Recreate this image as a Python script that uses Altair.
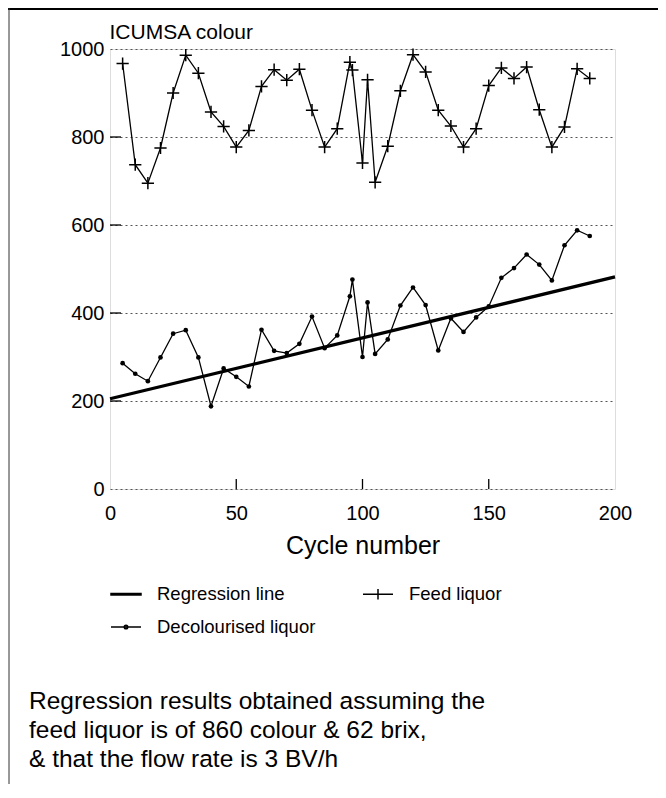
import altair as alt
import pandas as pd

# ---------------- data ----------------
cycles = [5, 10, 15, 20, 25, 30, 35, 40, 45, 50, 55, 60, 65, 70, 75, 80, 85, 90,
          95, 96, 100, 102, 105, 110, 115, 120, 125, 130, 135, 140, 145, 150,
          155, 160, 165, 170, 175, 180, 185, 190]
feed_colour = [967, 737, 695, 775, 900, 986, 945, 857, 824, 777, 815, 915, 953,
               929, 954, 861, 777, 819, 970, 952, 741, 930, 697, 779, 905, 987,
               948, 861, 825, 777, 819, 917, 957, 933, 959, 862, 777, 823, 955, 933]
decol_colour = [286, 262, 245, 299, 353, 361, 299, 188, 274, 255, 233, 362, 314,
                309, 330, 392, 320, 349, 438, 476, 300, 424, 307, 340, 417, 458,
                418, 315, 388, 357, 390, 415, 480, 502, 533, 510, 474, 554, 588, 575]
reg_cycles = [0, 200]
reg_colour = [205, 482]

series_labels = ["Regression line", "Feed liquor", "Decolourised liquor"]
x_ticks = [0, 50, 100, 150, 200]
y_ticks = [0, 200, 400, 600, 800, 1000]
x_inner_ticks = [50, 100, 150]
y_inner_ticks = [200, 400, 600, 800]
note_lines = ["Regression results obtained assuming the",
              "feed liquor is of 860 colour & 62 brix,",
              "& that the flow rate is 3 BV/h"]

rows = []
for c, v in zip(reg_cycles, reg_colour):
    rows.append({"cycle": c, "colour": v, "series": series_labels[0]})
for c, v in zip(cycles, feed_colour):
    rows.append({"cycle": c, "colour": v, "series": series_labels[1]})
for c, v in zip(cycles, decol_colour):
    rows.append({"cycle": c, "colour": v, "series": series_labels[2]})
df = pd.DataFrame(rows)

FONT = "Liberation Sans"
W, H = 505, 440

PLUS = "M-1,0H1M0,-1V1"
SYM_REG = "M-1,-0.05H1V0.05H-1Z"
SYM_FEED = "M-1,0H1M0,-0.35V0.35"
SYM_DEC = "M-1,0H1M0.12,0A0.12,0.12 0 1,1 -0.12,0A0.12,0.12 0 1,1 0.12,0Z"

# legend entries are filled column by column: this order gives
# row 1: Regression line | Feed liquor ; row 2: Decolourised liquor
legend_order = [series_labels[0], series_labels[2], series_labels[1]]
legend_syms = [SYM_REG, SYM_DEC, SYM_FEED]

x_enc = alt.X("cycle:Q",
              scale=alt.Scale(domain=[0, 200], nice=False, zero=False),
              axis=alt.Axis(values=x_ticks, title="Cycle number", grid=False,
                            ticks=False, domain=False, labelPadding=14,
                            labelFlush=False, format="d",
                            labelFontSize=20, labelFont=FONT, labelColor="black",
                            titleFontSize=25, titleFont=FONT, titleColor="black",
                            titleFontWeight="normal", titlePadding=10))
y_enc = alt.Y("colour:Q",
              scale=alt.Scale(domain=[0, 1000], nice=False),
              axis=alt.Axis(values=y_ticks, title="ICUMSA colour", grid=True,
                            gridDash=[2, 3], gridColor="#555", gridWidth=1,
                            ticks=False, domain=False, labelPadding=6,
                            labelFlush=False, format="d",
                            labelFontSize=20, labelFont=FONT, labelColor="black",
                            titleAngle=0, titleAlign="left", titleBaseline="middle",
                            titleX=-1, titleY=-17, titleFontSize=21, titleFont=FONT,
                            titleColor="black", titleFontWeight="normal"))

base = alt.Chart(df).encode(x=x_enc, y=y_enc)

reg = base.transform_filter(alt.datum.series == series_labels[0]).mark_line(
    color="black", strokeWidth=3.2)
lines = base.transform_filter(alt.datum.series != series_labels[0]).mark_line(
    color="black", strokeWidth=1.3).encode(detail="series:N")
feed_pts = base.transform_filter(alt.datum.series == series_labels[1]).mark_point(
    shape=PLUS, size=150, filled=False, color="black", strokeWidth=1.5, opacity=1)
dec_pts = base.transform_filter(alt.datum.series == series_labels[2]).mark_circle(
    size=22, color="black", opacity=1)

legend_layer = base.transform_filter(alt.datum.colour < 0).mark_point(
    filled=False, color="black", strokeWidth=1.5).encode(
    shape=alt.Shape("series:N",
                    scale=alt.Scale(domain=legend_order, range=legend_syms),
                    legend=alt.Legend(title=None, orient="none", legendX=0,
                                      legendY=529, columns=2, columnPadding=44,
                                      rowPadding=7, labelOffset=15,
                                      symbolSize=900, symbolStrokeColor="black",
                                      symbolFillColor="black", symbolStrokeWidth=1.5,
                                      symbolOpacity=1, labelFontSize=18.5,
                                      labelFont=FONT, labelColor="black",
                                      padding=0, labelLimit=400)))

xt_df = pd.DataFrame({"cycle": x_inner_ticks})
yt_df = pd.DataFrame({"colour": y_inner_ticks})
x_inner = alt.Chart(xt_df).mark_rule(color="black", strokeWidth=1.3).encode(
    x=alt.X("cycle:Q"), y=alt.value(H), y2=alt.value(H - 10))
y_inner = alt.Chart(yt_df).mark_rule(color="black", strokeWidth=1.3).encode(
    y=alt.Y("colour:Q"), x=alt.value(0), x2=alt.value(11))

one_row = pd.DataFrame({"k": [0]})
top_line = alt.Chart(one_row).mark_rule(color="black", strokeWidth=2).encode(
    x=alt.value(-102), x2=alt.value(548), y=alt.value(-40))
left_line = alt.Chart(one_row).mark_rule(color="#333", strokeWidth=1).encode(
    x=alt.value(-101), y=alt.value(-41), y2=alt.value(735))

note = alt.Chart(one_row).mark_text(
    align="left", baseline="middle", fontSize=24.5, lineHeight=29, font=FONT,
    color="black").encode(x=alt.value(-81), y=alt.value(653),
                          text=alt.value(note_lines))

chart = alt.layer(reg, lines, feed_pts, dec_pts, legend_layer, x_inner, y_inner,
                  top_line, left_line, note).properties(
    width=W, height=H,
    autosize=alt.AutoSizeParams(type="none"),
    padding={"left": 102, "top": 41, "right": 43, "bottom": 295},
).configure_view(stroke="black", strokeWidth=1.6).configure(background="white")

chart.save("out.html", embed_options={"renderer": "svg", "actions": False})
